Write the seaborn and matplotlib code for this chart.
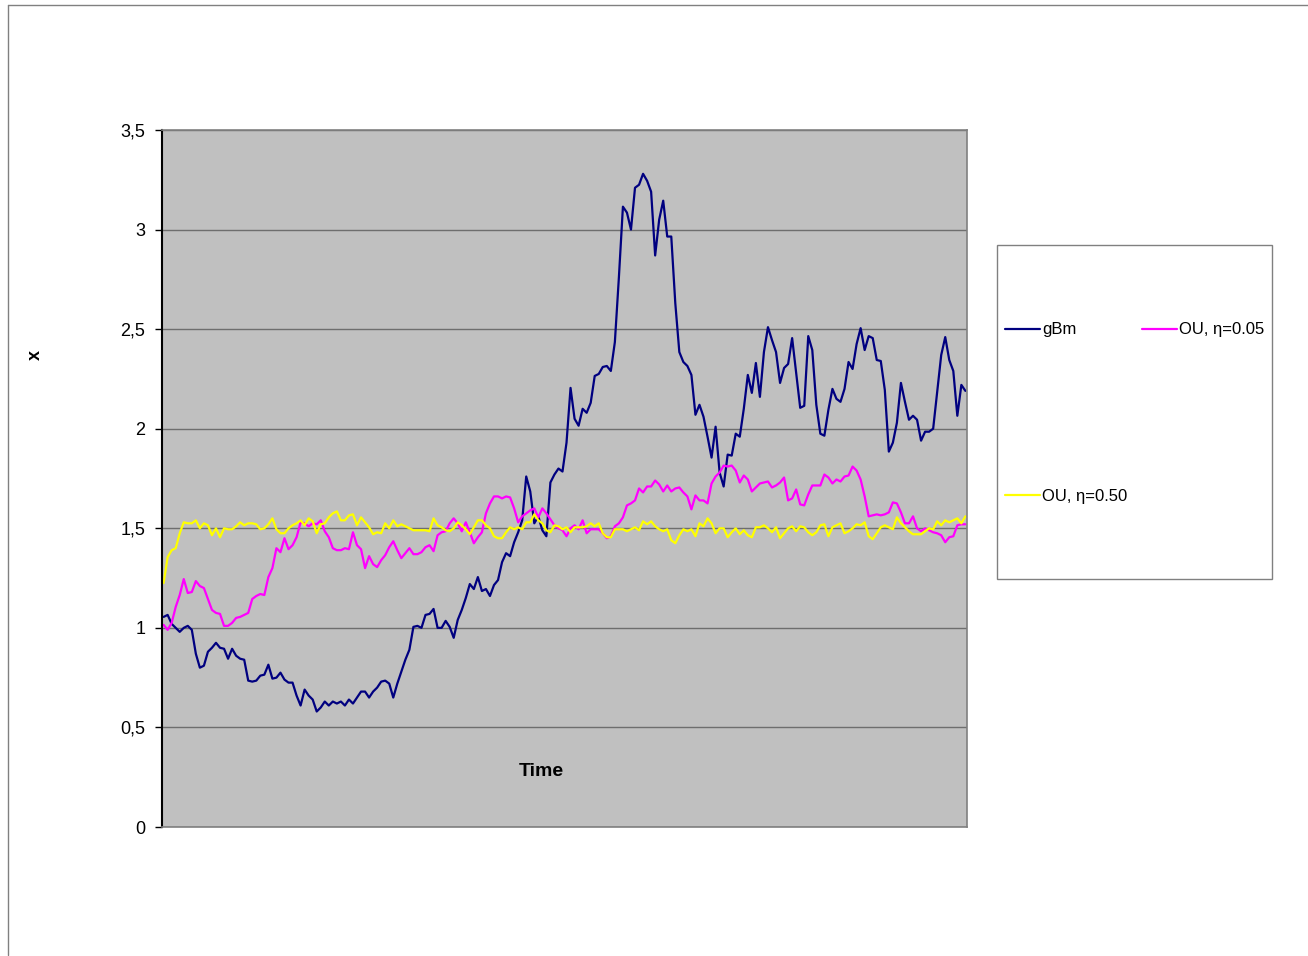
import matplotlib
matplotlib.use("Agg")

import matplotlib.pyplot as plt
import seaborn as sns
import pandas as pd
from matplotlib.lines import Line2D
from matplotlib.patches import Rectangle

# values (200 time steps)
gbm = [
    1.055, 1.065, 1.02, 1.0, 0.98, 1.0, 1.01, 0.99, 0.87, 0.80,
    0.81, 0.88, 0.90, 0.925, 0.90, 0.895, 0.845, 0.895, 0.86, 0.845,
    0.84, 0.735, 0.73, 0.735, 0.76, 0.765, 0.815, 0.745, 0.75, 0.775,
    0.74, 0.725, 0.725, 0.66, 0.61, 0.69, 0.66, 0.64, 0.58, 0.60,
    0.63, 0.61, 0.63, 0.62, 0.63, 0.61, 0.64, 0.62, 0.65, 0.68,
    0.68, 0.65, 0.68, 0.70, 0.73, 0.735, 0.72, 0.65, 0.72, 0.78,
    0.84, 0.89, 1.005, 1.01, 1.0, 1.065, 1.07, 1.095, 1.0, 1.0,
    1.035, 1.005, 0.95, 1.04, 1.09, 1.15, 1.22, 1.195, 1.255, 1.185,
    1.195, 1.16, 1.215, 1.24, 1.33, 1.375, 1.36, 1.43, 1.48, 1.54,
    1.76, 1.685, 1.525, 1.56, 1.49, 1.46, 1.73, 1.77, 1.80, 1.785,
    1.93, 2.205, 2.05, 2.015, 2.10, 2.08, 2.13, 2.265, 2.275, 2.31,
    2.315, 2.29, 2.435, 2.76, 3.115, 3.085, 3.0, 3.21, 3.225, 3.28,
    3.245, 3.19, 2.87, 3.05, 3.145, 2.965, 2.965, 2.63, 2.385, 2.335,
    2.315, 2.27, 2.07, 2.12, 2.06, 1.96, 1.855, 2.01, 1.78, 1.71,
    1.87, 1.865, 1.975, 1.96, 2.10, 2.27, 2.18, 2.33, 2.16, 2.385,
    2.51, 2.445, 2.385, 2.23, 2.305, 2.325, 2.455, 2.28, 2.105, 2.115,
    2.465, 2.395, 2.12, 1.975, 1.965, 2.095, 2.20, 2.15, 2.135, 2.20,
    2.335, 2.30, 2.425, 2.505, 2.395, 2.465, 2.455, 2.345, 2.34, 2.195,
    1.885, 1.93, 2.03, 2.23, 2.135, 2.045, 2.065, 2.045, 1.94, 1.985,
    1.985, 2.0, 2.185, 2.37, 2.46, 2.345, 2.29, 2.065, 2.22, 2.19,
]

ou_005 = [
    1.015, 0.99, 1.025, 1.105, 1.165, 1.245, 1.175, 1.18, 1.235, 1.21,
    1.20, 1.145, 1.09, 1.075, 1.07, 1.01, 1.01, 1.025, 1.05, 1.055,
    1.065, 1.075, 1.145, 1.16, 1.17, 1.165, 1.255, 1.30, 1.40, 1.38,
    1.45, 1.395, 1.415, 1.455, 1.53, 1.525, 1.51, 1.525, 1.52, 1.54,
    1.485, 1.455, 1.40, 1.39, 1.39, 1.40, 1.395, 1.48, 1.415, 1.395,
    1.30, 1.36, 1.32, 1.305, 1.34, 1.365, 1.405, 1.435, 1.39, 1.35,
    1.375, 1.40, 1.37, 1.37, 1.38, 1.405, 1.415, 1.385, 1.465, 1.48,
    1.485, 1.525, 1.55, 1.525, 1.485, 1.53, 1.48, 1.425, 1.455, 1.48,
    1.575, 1.625, 1.66, 1.66, 1.65, 1.66, 1.655, 1.60, 1.53, 1.56,
    1.575, 1.59, 1.60, 1.555, 1.60, 1.575, 1.545, 1.515, 1.50, 1.49,
    1.46, 1.50, 1.515, 1.495, 1.54, 1.475, 1.495, 1.495, 1.495, 1.475,
    1.45, 1.46, 1.51, 1.525, 1.555, 1.615, 1.625, 1.64, 1.70, 1.68,
    1.71, 1.71, 1.74, 1.72, 1.685, 1.715, 1.685, 1.70, 1.705, 1.68,
    1.66, 1.595, 1.665, 1.64, 1.64, 1.625, 1.725, 1.76, 1.78, 1.815,
    1.81, 1.815, 1.79, 1.73, 1.765, 1.745, 1.685, 1.705, 1.725, 1.73,
    1.735, 1.705, 1.715, 1.73, 1.755, 1.64, 1.65, 1.695, 1.62, 1.615,
    1.67, 1.715, 1.715, 1.715, 1.77, 1.755, 1.725, 1.745, 1.735, 1.76,
    1.765, 1.81, 1.79, 1.745, 1.66, 1.56, 1.565, 1.57, 1.565, 1.57,
    1.58, 1.63, 1.625, 1.58, 1.525, 1.525, 1.56, 1.50, 1.485, 1.50,
    1.49, 1.48, 1.475, 1.465, 1.43, 1.455, 1.46, 1.515, 1.52, 1.52,
]

ou_050 = [
    1.225, 1.355, 1.39, 1.40, 1.475, 1.53, 1.525, 1.525, 1.54, 1.50,
    1.525, 1.515, 1.465, 1.50, 1.455, 1.50, 1.495, 1.495, 1.51, 1.53,
    1.515, 1.525, 1.525, 1.52, 1.495, 1.50, 1.52, 1.55, 1.495, 1.475,
    1.475, 1.50, 1.515, 1.525, 1.54, 1.515, 1.55, 1.535, 1.475, 1.52,
    1.525, 1.555, 1.575, 1.585, 1.54, 1.54, 1.565, 1.57, 1.515, 1.555,
    1.53, 1.505, 1.47, 1.48, 1.475, 1.525, 1.50, 1.54, 1.51, 1.52,
    1.51, 1.50, 1.49, 1.49, 1.49, 1.49, 1.485, 1.55, 1.515, 1.505,
    1.49, 1.485, 1.50, 1.53, 1.515, 1.495, 1.47, 1.505, 1.54, 1.54,
    1.515, 1.50, 1.46, 1.45, 1.45, 1.48, 1.505, 1.495, 1.505, 1.495,
    1.53, 1.53, 1.57, 1.54, 1.525, 1.49, 1.48, 1.515, 1.51, 1.495,
    1.505, 1.48, 1.505, 1.505, 1.505, 1.51, 1.525, 1.51, 1.525, 1.475,
    1.455, 1.455, 1.495, 1.495, 1.495, 1.485, 1.495, 1.505, 1.49, 1.535,
    1.52, 1.535, 1.51, 1.495, 1.485, 1.495, 1.44, 1.425, 1.465, 1.495,
    1.485, 1.495, 1.46, 1.525, 1.51, 1.55, 1.525, 1.475, 1.50, 1.50,
    1.455, 1.48, 1.50, 1.47, 1.49, 1.465, 1.455, 1.505, 1.505, 1.515,
    1.50, 1.48, 1.505, 1.45, 1.475, 1.50, 1.51, 1.485, 1.51, 1.505,
    1.48, 1.465, 1.48, 1.515, 1.52, 1.46, 1.505, 1.515, 1.525, 1.475,
    1.485, 1.50, 1.52, 1.515, 1.53, 1.46, 1.445, 1.475, 1.505, 1.515,
    1.505, 1.495, 1.555, 1.525, 1.505, 1.485, 1.47, 1.47, 1.47, 1.485,
    1.50, 1.495, 1.535, 1.515, 1.54, 1.53, 1.54, 1.55, 1.525, 1.56,
]

series_names = ["gBm", "OU, η=0.05", "OU, η=0.50"]
series_colors = ["#000080", "#FF00FF", "#FFFF00"]
y_ticks = [0, 0.5, 1, 1.5, 2, 2.5, 3, 3.5]
y_tick_labels = ["0", "0,5", "1", "1,5", "2", "2,5", "3", "3,5"]

frames = []
for name, vals in zip(series_names, [gbm, ou_005, ou_050]):
    frames.append(pd.DataFrame({"t": range(len(vals)), "x": vals, "series": name}))
df = pd.concat(frames, ignore_index=True)

sns.set_theme(style="white")
plt.rcParams["font.family"] = ["Liberation Sans", "DejaVu Sans"]
plt.rcParams["text.color"] = "black"
plt.rcParams["axes.labelcolor"] = "black"
plt.rcParams["ytick.color"] = "black"

W, H = 1308, 956
fig = plt.figure(figsize=(W / 100, H / 100), dpi=100)

# outer chart-area border (only top and left edges visible)
fig.add_artist(Line2D([8 / W, 1], [1 - 5 / H, 1 - 5 / H], transform=fig.transFigure,
                      color="#808080", lw=1))
fig.add_artist(Line2D([8 / W, 8 / W], [1 - 955 / H, 1 - 5 / H], transform=fig.transFigure,
                      color="#808080", lw=1))

ax = fig.add_axes([162 / W, 1 - 827 / H, (967 - 162) / W, (827 - 130) / H])
ax.set_facecolor("#C0C0C0")

sns.lineplot(data=df, x="t", y="x", hue="series", hue_order=series_names,
             palette=series_colors, linewidth=1.6, legend=False, ax=ax)

ax.set_xlim(-0.4, len(gbm) - 0.6)
ax.set_ylim(0, 3.5)
ax.set_xticks([])
ax.set_yticks(y_ticks)
ax.set_yticklabels(y_tick_labels)
ax.tick_params(axis="y", direction="out", length=5, width=1, color="black",
               labelcolor="black", pad=7, labelsize=13, left=True)
ax.yaxis.grid(True, color="#6e6e6e", lw=1)
ax.set_axisbelow(True)

for side in ["top", "right", "bottom"]:
    ax.spines[side].set_color("#808080")
    ax.spines[side].set_linewidth(1.2)
ax.spines["left"].set_color("black")
ax.spines["left"].set_linewidth(1.5)

ax.set_xlabel("Time", fontsize=14, fontweight="bold", va="center", color="black")
ax.xaxis.set_label_coords((541 - 162) / 805, (827 - 771) / 697)
ax.set_ylabel("x", fontsize=13, fontweight="bold", va="center", color="black")
ax.yaxis.set_label_coords((35 - 162) / 805, (827 - 355) / 697)

# legend box
fig.add_artist(Rectangle((997 / W, 1 - 579 / H), (1272 - 997) / W, (579 - 245) / H,
                         transform=fig.transFigure, facecolor="white",
                         edgecolor="#808080", lw=1))
handles = [Line2D([], [], color=c, lw=1.6) for c in series_colors]
order = [0, 2, 1]
fig.legend([handles[i] for i in order], [series_names[i] for i in order],
           ncol=2, frameon=False, loc="upper left",
           bbox_to_anchor=(997 / W, 1 - 314 / H), bbox_transform=fig.transFigure,
           fontsize=12, borderpad=0, handlelength=2.1, handletextpad=0.1,
           columnspacing=0.9, labelspacing=9.1, labelcolor="black")

fig.savefig("out.png", dpi=100)
plt.close(fig)
